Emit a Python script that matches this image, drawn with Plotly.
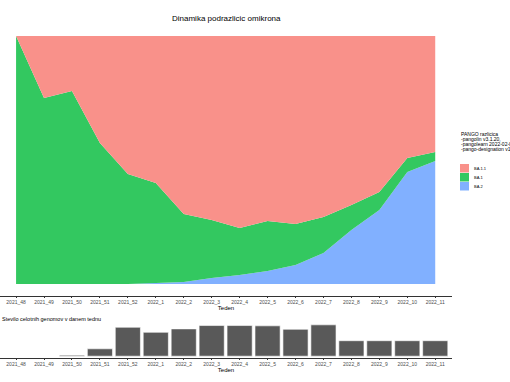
import plotly.graph_objects as go

W, H = 510, 382

weeks = ["2021_48", "2021_49", "2021_50", "2021_51", "2021_52", "2022_1", "2022_2",
         "2022_3", "2022_4", "2022_5", "2022_6", "2022_7", "2022_8", "2022_9",
         "2022_10", "2022_11"]

ba2 = [0, 0, 0, 0, 0, 0.004, 0.008, 0.024, 0.036, 0.052, 0.077, 0.125, 0.218, 0.298, 0.452, 0.496]
ba1 = [1.0, 0.75, 0.778, 0.569, 0.444, 0.403, 0.274, 0.234, 0.19, 0.202, 0.165, 0.145, 0.101, 0.073, 0.056, 0.036]
ba11 = [0, 0.25, 0.222, 0.431, 0.556, 0.593, 0.718, 0.742, 0.774, 0.746, 0.758, 0.73, 0.681, 0.629, 0.492, 0.468]

genomes = [0, 0, 1, 7.3, 28.6, 23.6, 27, 30.3, 30.3, 30, 26.6, 31, 15.3, 15.3, 15.3, 15.3]

variants = ["BA.2", "BA.1", "BA.1.1"]
values = [ba2, ba1, ba11]
colors = ["#81B0FF", "#33C860", "#F9918A"]

legend_title = ["PANGO razlicica", "-pangolin v3.1.20,", "-pangolearn 2022-02-02",
                "-pango-designation v1.2.123"]

def px_x(p):
    return p / W

def px_y(p):
    return 1 - p / H

fig = go.Figure()
for name, vals, col in zip(variants, values, colors):
    fig.add_trace(go.Scatter(
        x=weeks, y=vals, name=name, stackgroup="one", mode="lines",
        line=dict(width=0, color=col), fillcolor=col, showlegend=False,
        xaxis="x", yaxis="y", hoverinfo="x+y+name"))

fig.add_trace(go.Bar(
    x=weeks, y=genomes, marker=dict(color="#595959", line=dict(color="white", width=0.6)),
    width=0.9, showlegend=False, xaxis="x2", yaxis="y2"))

font = "Liberation Sans, Arial, sans-serif"
xr = [-0.575, 15.6]
axis_common = dict(type="category", range=xr, showgrid=False, zeroline=False,
                   showline=True, linecolor="#333333", linewidth=1, automargin=False,
                   ticks="outside", ticklen=1, tickcolor="#333333", tickwidth=0.5,
                   tickfont=dict(size=5, color="#4d4d4d", family=font),
                   title=dict(text="Teden", font=dict(size=6, color="#000000", family=font),
                              standoff=0),
                   fixedrange=True)

shapes = []
annotations = [
    dict(text="Dinamika podrazlicic omikrona", x=px_x(226), y=px_y(19),
         xref="paper", yref="paper", showarrow=False, xanchor="center", yanchor="middle",
         font=dict(size=8, color="#000000", family=font)),
    dict(text="Stevilo celotnih genomov v danem tednu", x=0, y=px_y(319),
         xref="paper", yref="paper", showarrow=False, xanchor="left", yanchor="middle",
         font=dict(size=5.5, color="#000000", family=font)),
]
# legend title lines
for i, line in enumerate(legend_title):
    annotations.append(dict(text=line, x=px_x(459), y=px_y(134 + 5 * i), xref="paper", yref="paper",
                            showarrow=False, xanchor="left", yanchor="middle",
                            font=dict(size=5, color="#000000", family=font)))
# legend keys (BA.1.1 top, BA.1, BA.2)
for i, (name, col) in enumerate(reversed(list(zip(variants, colors)))):
    y0 = 164 + 9 * i
    shapes.append(dict(type="rect", xref="paper", yref="paper",
                       x0=px_x(460), x1=px_x(469), y0=px_y(y0 + 8.5), y1=px_y(y0),
                       fillcolor=col, line=dict(width=0)))
    annotations.append(dict(text=name, x=px_x(472), y=px_y(y0 + 4.2), xref="paper", yref="paper",
                            showarrow=False, xanchor="left", yanchor="middle",
                            font=dict(size=4, color="#000000", family=font)))

fig.update_layout(
    width=W, height=H,
    margin=dict(l=0, r=0, t=0, b=0, autoexpand=False),
    paper_bgcolor="white", plot_bgcolor="white",
    font=dict(family=font),
    showlegend=False,
    xaxis=dict(domain=[0, px_x(452)], anchor="y", **axis_common),
    yaxis=dict(domain=[px_y(296.4), px_y(23.6)], range=[-0.05, 1.05], showgrid=False,
               zeroline=False, showticklabels=False, showline=False, anchor="x",
               automargin=False, fixedrange=True),
    xaxis2=dict(domain=[0, px_x(452)], anchor="y2", **axis_common),
    yaxis2=dict(domain=[px_y(357.8), px_y(322.2)], range=[-1.6, 33.6], showgrid=False,
                zeroline=False, showticklabels=False, showline=False, anchor="x2",
                automargin=False, fixedrange=True),
    shapes=shapes,
    annotations=annotations,
)

fig.write_html("out.html", config={"displayModeBar": False},
               post_script="document.body.style.margin='0';document.body.style.overflow='hidden';")
